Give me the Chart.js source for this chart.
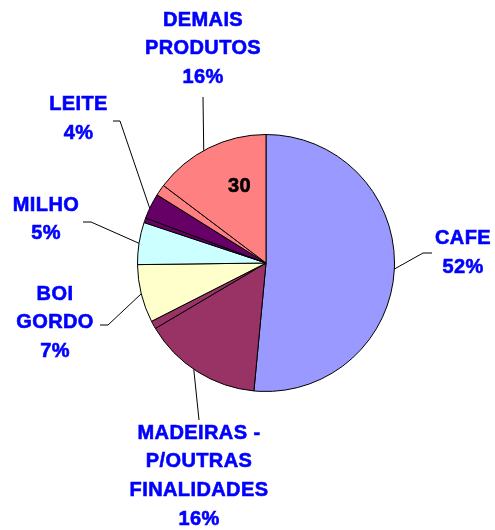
<!DOCTYPE html>
<html>
<head>
<meta charset="utf-8">
<script src="https://cdn.jsdelivr.net/npm/chart.js@4.4.0/dist/chart.umd.min.js"></script>
<style>
    body { margin: 0; background: #fff; }
    #wrap { width: 495px; height: 530px; }
</style>
</head>
<body>
<div id="wrap"><canvas id="pieChart" width="495" height="530"></canvas></div>
<script>
// ==========================================
// DADOS
// ==========================================
const categories = ['CAFE', 'MADEIRAS - P/OUTRAS FINALIDADES', 'BOI GORDO', 'MILHO', 'LEITE', 'DEMAIS PRODUTOS'];
const percentLabels = ['52%', '16%', '7%', '5%', '4%', '16%'];
// fatias como aparecem na figura (algumas categorias têm duas fatias)
const sliceValues = [51.5, 15.0, 1.0, 7.3, 5.3, 0.6, 3.2, 1.4, 14.7];
const sliceCategory = [0, 1, 1, 2, 3, 4, 4, 5, 5];
const innerText = '30';

// ==========================================
// LAYOUT DOS RÓTULOS
// ==========================================
const categoryColors = ['#9999FF', '#993366', '#FFFFCC', '#CCFFFF', '#660066', '#FF8080'];
const labelLayout = [
    { lines: ['CAFE'], x: 463, y: 238.5, path: [[423, 253], [432, 253]] },
    { lines: ['MADEIRAS -', 'P/OUTRAS', 'FINALIDADES'], x: 199, y: 433, path: [[199, 420]] },
    { lines: ['BOI', 'GORDO'], x: 55, y: 294, path: [[108, 325], [100, 325]] },
    { lines: ['MILHO'], x: 46, y: 205, path: [[91, 222], [83, 222]] },
    { lines: ['LEITE'], x: 78.5, y: 104.5, path: [[120, 121], [113, 121]] },
    { lines: ['DEMAIS', 'PRODUTOS'], x: 203, y: 20, path: [[203, 97]] }
];
const lineStep = 28.7;
const labelFont = 'bold 20px "Liberation Sans", Arial, sans-serif';

// texto um pouco mais encorpado, como no original
function boldText(ctx, t, x, y, color) {
    ctx.fillStyle = color;
    ctx.strokeStyle = color;
    ctx.lineWidth = 0.6;
    ctx.fillText(t, x, y);
    ctx.strokeText(t, x, y);
}

const labelPlugin = {
    id: 'labelPlugin',
    afterDraw(chart) {
        const ctx = chart.ctx;
        const arcs = chart.getDatasetMeta(0).data;
        ctx.save();
        ctx.font = labelFont;
        ctx.textAlign = 'center';
        ctx.textBaseline = 'middle';
        ctx.letterSpacing = '0.4px';

        categories.forEach((cat, c) => {
            const idx = sliceCategory.map((v, i) => v === c ? i : -1).filter(i => i >= 0);
            const first = arcs[idx[0]];
            const last = arcs[idx[idx.length - 1]];
            const mid = (first.startAngle + last.endAngle) / 2;
            const r = first.outerRadius;
            const px = first.x + Math.cos(mid) * r;
            const py = first.y + Math.sin(mid) * r;

            const lay = labelLayout[c];
            // linha de chamada
            ctx.strokeStyle = '#000';
            ctx.lineWidth = 1;
            ctx.beginPath();
            ctx.moveTo(px, py);
            lay.path.forEach(p => ctx.lineTo(p[0], p[1]));
            ctx.stroke();

            // texto
            const allLines = lay.lines.concat([percentLabels[c]]);
            allLines.forEach((t, i) => {
                boldText(ctx, t, lay.x, lay.y + i * lineStep, '#0000FF');
            });
        });

        // rótulo solto dentro da fatia
        const a = arcs[0];
        boldText(ctx, innerText, a.x - 26.5, a.y - 76.5, '#000');
        ctx.restore();
    }
};

// ==========================================
// GRÁFICO
// ==========================================
const ctxPie = document.getElementById('pieChart').getContext('2d');
new Chart(ctxPie, {
    type: 'pie',
    data: {
        labels: sliceCategory.map(c => categories[c]),
        datasets: [{
            data: sliceValues,
            backgroundColor: sliceCategory.map(c => categoryColors[c]),
            borderColor: '#000',
            borderWidth: 1
        }]
    },
    options: {
        responsive: false,
        animation: false,
        events: [],
        layout: { padding: { left: 137, right: 100, top: 134, bottom: 138 } },
        plugins: {
            legend: { display: false },
            tooltip: { enabled: false }
        }
    },
    plugins: [labelPlugin]
});
</script>
</body>
</html>
